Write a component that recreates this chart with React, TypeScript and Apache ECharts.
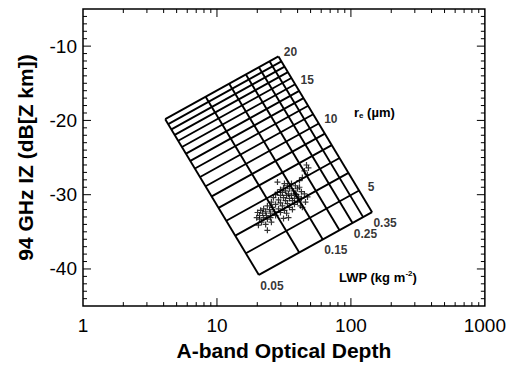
import React, { useEffect, useRef } from "react";
import * as echarts from "echarts";

// ---- axis ranges / ticks ----
const X_MIN = 1;
const X_MAX = 1000;
const Y_MIN = -45;
const Y_MAX = -5;
const xMajorTicks = [10, 100];
const xMinorTicks = [2, 3, 4, 5, 6, 7, 8, 9, 20, 30, 40, 50, 60, 70, 80, 90, 200, 300, 400, 500, 600, 700, 800, 900];
const yLabelTicks = [-40, -30, -20, -10];
const yMinorTicks = [-44, -43, -42, -41, -39, -38, -37, -36, -35, -34, -33, -32, -31, -29, -28, -27, -26, -25, -24, -23, -22, -21, -19, -18, -17, -16, -15, -14, -13, -12, -11, -9, -8, -7, -6];

// ---- lookup-table grid: constant effective radius lines (LWP 0.05 -> 0.35) ----
const reValues = [4, 5, 6, 7, 8, 9, 10, 11, 12, 13, 14, 15, 16, 17, 18, 19, 20];
const reLeftTau = [20.56, 16.45, 13.71, 11.75, 10.28, 9.14, 8.23, 7.48, 6.85, 6.33, 5.88, 5.48, 5.14, 4.84, 4.57, 4.33, 4.11];
const reLeftIZ = [-40.8, -37.89, -35.52, -33.51, -31.77, -30.23, -28.86, -27.62, -26.48, -25.44, -24.48, -23.58, -22.74, -21.95, -21.2, -20.5, -19.83];
const reRightTau = [143.9, 115.2, 95.96, 82.25, 71.97, 63.97, 57.58, 52.34, 47.98, 44.29, 41.13, 38.38, 35.98, 33.87, 31.99, 30.3, 28.79];
const reRightIZ = [-32.35, -29.44, -27.07, -25.06, -23.32, -21.78, -20.41, -19.17, -18.03, -16.99, -16.03, -15.13, -14.29, -13.5, -12.75, -12.05, -11.38];

// ---- constant LWP lines (re 20 -> 4) ----
const lwpValues = [0.05, 0.1, 0.15, 0.2, 0.25, 0.3, 0.35];
const lwpTopTau = [4.11, 8.23, 12.34, 16.45, 20.56, 24.68, 28.79];
const lwpTopIZ = [-19.83, -16.82, -15.06, -13.81, -12.84, -12.05, -11.38];
const lwpBottomTau = [20.56, 41.13, 61.69, 82.25, 102.8, 123.4, 143.9];
const lwpBottomIZ = [-40.8, -37.79, -36.03, -34.78, -33.81, -33.02, -32.35];

const reLabelValues = [20, 15, 10, 5];
const lwpLabelValues = [0.05, 0.15, 0.25, 0.35];

// ---- observations ----
const obsTau = [46.6, 48.2, 45.0, 47.4, 43.4, 41.3, 28.3, 36.0, 33.6, 38.5, 31.4, 34.8, 39.9, 29.8, 32.5, 37.3, 42.7, 28.3, 30.8, 34.2, 38.5, 45.0, 27.4, 29.8, 33.1, 36.0, 40.6, 47.4, 26.4, 31.4, 34.8, 37.9, 42.7, 28.8, 32.5, 36.6, 25.5, 39.9, 45.8, 29.8, 33.6, 27.4, 37.9, 23.8, 30.8, 42.0, 26.0, 34.8, 22.3, 28.8, 24.7, 31.9, 21.2, 23.1, 26.9, 20.1, 21.9, 25.1, 33.1, 20.8, 23.4, 27.4, 19.8, 22.3, 25.1, 34.2, 20.8, 23.8, 21.5, 25.5, 23.1, 20.4, 23.8, 31.4, 36.6, 39.2, 41.3, 31.9, 43.4, 29.8];
const obsIZ = [-26.0, -26.4, -26.8, -27.3, -27.7, -28.1, -28.3, -28.5, -28.8, -28.8, -29.1, -29.2, -29.2, -29.3, -29.5, -29.5, -29.6, -29.7, -29.7, -29.9, -29.9, -29.9, -30.0, -30.1, -30.1, -30.1, -30.3, -30.3, -30.4, -30.4, -30.5, -30.5, -30.5, -30.7, -30.8, -30.8, -31.0, -31.0, -31.0, -31.1, -31.2, -31.3, -31.3, -31.5, -31.5, -31.5, -31.7, -31.7, -31.9, -31.9, -32.0, -32.1, -32.1, -32.3, -32.3, -32.4, -32.5, -32.5, -32.5, -32.8, -32.8, -32.8, -33.1, -33.1, -33.1, -33.1, -33.3, -33.3, -33.7, -33.7, -34.0, -34.1, -34.8, -33.2, -32.0, -30.0, -29.0, -28.5, -31.7, -32.4];

const FONT = "'Liberation Sans', Arial, Helvetica, sans-serif";
const PLUS = "path://M4,0H6V4H10V6H6V10H4V6H0V4H4Z";

export default function App() {
  const ref = useRef<HTMLDivElement>(null);
  useEffect(() => {
    if (!ref.current) return;
    const chart = echarts.init(ref.current, undefined, { renderer: "svg" });

    const lineSeries: any[] = [];
    reValues.forEach((re, i) => {
      lineSeries.push({
        type: "line",
        name: "re" + re,
        data: [[reLeftTau[i], reLeftIZ[i]], [reRightTau[i], reRightIZ[i]]],
        symbol: "none",
        silent: true,
        lineStyle: { color: "#000", width: 1.9 },
        z: 2,
      });
    });
    lwpValues.forEach((l, j) => {
      lineSeries.push({
        type: "line",
        name: "lwp" + l,
        data: [[lwpTopTau[j], lwpTopIZ[j]], [lwpBottomTau[j], lwpBottomIZ[j]]],
        symbol: "none",
        silent: true,
        lineStyle: { color: "#000", width: 1.9 },
        z: 2,
      });
    });

    const reLabelData = reLabelValues.map((re) => {
      const i = reValues.indexOf(re);
      return { name: String(re), value: [reRightTau[i], reRightIZ[i]] };
    });
    const lwpLabelData = lwpLabelValues.map((l) => {
      const j = lwpValues.indexOf(l);
      return { name: l.toFixed(2), value: [lwpBottomTau[j], lwpBottomIZ[j]] };
    });

    const tickStyle = { stroke: "#000", lineWidth: 1 };
    const xTickData = [
      ...xMajorTicks.map((v) => [v, -25, 8]),
      ...xMinorTicks.map((v) => [v, -25, 4]),
    ];
    const yTickData = [
      ...yLabelTicks.map((v) => [10, v, 8]),
      ...yMinorTicks.map((v) => [10, v, 4]),
    ];

    const annLabel = {
      show: true,
      position: "inside",
      formatter: "{b}",
      fontSize: 12,
      fontWeight: "bold",
      color: "#000",
      textBorderWidth: 0,
      textBorderColor: "transparent",
      fontFamily: FONT,
    };

    const option: any = {
      animation: false,
      backgroundColor: "#fff",
      textStyle: { fontFamily: FONT },
      grid: {
        left: 83,
        right: 23,
        top: 9,
        bottom: 57,
        show: true,
        borderColor: "#000",
        borderWidth: 1.5,
        backgroundColor: "transparent",
      },
      xAxis: {
        type: "log",
        logBase: 10,
        min: X_MIN,
        max: X_MAX,
        interval: 1,
        name: "A-band Optical Depth",
        nameLocation: "middle",
        nameGap: 32,
        nameTextStyle: { fontSize: 21, fontWeight: "bold", color: "#000", fontFamily: FONT },
        axisLine: { show: false },
        axisTick: { show: false },
        splitLine: { show: false },
        axisLabel: {
          fontSize: 19,
          color: "#000",
          fontFamily: FONT,
          margin: 10,
          formatter: (v: number) => String(Math.round(v)),
        },
      },
      yAxis: {
        type: "value",
        min: Y_MIN,
        max: Y_MAX,
        name: "94 GHz IZ (dB[Z km])",
        nameLocation: "middle",
        nameGap: 47,
        nameTextStyle: { fontSize: 21, fontWeight: "bold", color: "#000", fontFamily: FONT },
        axisLine: { show: false },
        axisTick: { show: false },
        splitLine: { show: false },
        axisLabel: {
          customValues: yLabelTicks,
          fontSize: 19,
          color: "#000",
          fontFamily: FONT,
          margin: 6,
        },
      },
      series: [
        ...lineSeries,
        {
          type: "scatter",
          name: "obs",
          data: obsTau.map((t, k) => [t, obsIZ[k]]),
          symbol: PLUS,
          symbolSize: 6,
          itemStyle: { color: "#000" },
          silent: true,
          z: 3,
        },
        {
          type: "scatter",
          name: "reLabels",
          data: reLabelData,
          symbolSize: 1,
          itemStyle: { color: "rgba(0,0,0,0)" },
          silent: true,
          label: { ...annLabel, offset: [12, -4] },
        },
        {
          type: "scatter",
          name: "lwpLabels",
          data: lwpLabelData,
          symbolSize: 1,
          itemStyle: { color: "rgba(0,0,0,0)" },
          silent: true,
          label: { ...annLabel, offset: [13, 11] },
        },
        {
          type: "custom",
          name: "xticks",
          silent: true,
          data: xTickData,
          renderItem: (params: any, api: any) => {
            const v = api.value(0);
            const len = api.value(2);
            const b = api.coord([v, Y_MIN]);
            const t = api.coord([v, Y_MAX]);
            return {
              type: "group",
              children: [
                { type: "line", shape: { x1: b[0], y1: b[1], x2: b[0], y2: b[1] - len }, style: tickStyle },
                { type: "line", shape: { x1: t[0], y1: t[1], x2: t[0], y2: t[1] + len }, style: tickStyle },
              ],
            };
          },
          z: 4,
        },
        {
          type: "custom",
          name: "yticks",
          silent: true,
          data: yTickData,
          renderItem: (params: any, api: any) => {
            const v = api.value(1);
            const len = api.value(2);
            const l = api.coord([X_MIN, v]);
            const r = api.coord([X_MAX, v]);
            return {
              type: "group",
              children: [
                { type: "line", shape: { x1: l[0], y1: l[1], x2: l[0] + len, y2: l[1] }, style: tickStyle },
                { type: "line", shape: { x1: r[0], y1: r[1], x2: r[0] - len, y2: r[1] }, style: tickStyle },
              ],
            };
          },
          z: 4,
        },
      ],
      graphic: [
        {
          type: "text",
          x: 354,
          y: 112,
          style: {
            text: "{a|r}{s|e}{a| (µm)}",
            verticalAlign: "middle",
            rich: {
              a: { fontSize: 13, fontWeight: "bold", fontFamily: FONT, fill: "#000", lineHeight: 15 },
              s: { fontSize: 8, fontWeight: "bold", fontFamily: FONT, fill: "#000", lineHeight: 9, verticalAlign: "bottom" },
            },
          },
        },
        {
          type: "text",
          x: 339,
          y: 277,
          style: {
            text: "{a|LWP (kg m}{p|-2}{a|)}",
            verticalAlign: "middle",
            rich: {
              a: { fontSize: 13, fontWeight: "bold", fontFamily: FONT, fill: "#000", lineHeight: 15 },
              p: { fontSize: 8, fontWeight: "bold", fontFamily: FONT, fill: "#000", lineHeight: 9, verticalAlign: "top" },
            },
          },
        },
      ],
    };

    chart.setOption(option);
    return () => chart.dispose();
  }, []);

  return (
    <div
      ref={ref}
      style={{ position: "fixed", left: 0, top: 0, width: 509, height: 366, background: "#fff" }}
    />
  );
}
